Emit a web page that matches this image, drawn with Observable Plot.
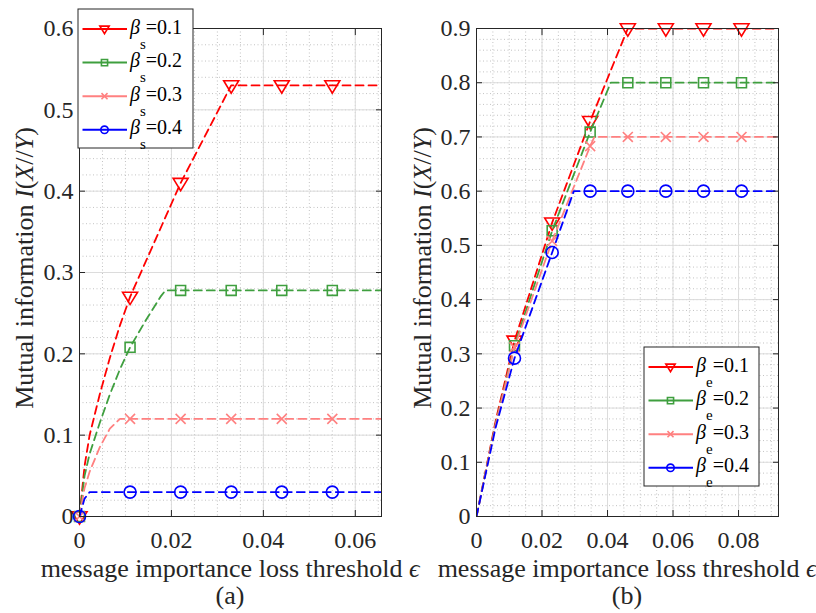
<!DOCTYPE html>
<html><head><meta charset="utf-8">
<script src="https://cdn.jsdelivr.net/npm/d3@7"></script>
<script src="https://cdn.jsdelivr.net/npm/@observablehq/plot@0.6"></script>
<style>
html,body{margin:0;padding:0;background:#fff;}
#wrap{position:relative;width:816px;height:613px;overflow:hidden;background:#fff;}
#wrap svg{position:absolute;top:0;overflow:visible;}
</style></head><body><div id="wrap"></div>
<script>
// ---------- data ----------
const seriesNames = ["0.1", "0.2", "0.3", "0.4"];
const colors = ["#ff0000", "#3f9f3f", "#ff8080", "#0000ff"];

// Panel (a)
const xTicksA = [0, 0.02, 0.04, 0.06];
const yTicksA = [0, 0.1, 0.2, 0.3, 0.4, 0.5, 0.6];
const markXA = [0, 0.011, 0.022, 0.033, 0.044, 0.055];
const markA1 = [0, 0.27, 0.41, 0.53, 0.53, 0.53];
const markA2 = [0, 0.208, 0.278, 0.278, 0.278, 0.278];
const markA3 = [0, 0.12, 0.12, 0.12, 0.12, 0.12];
const markA4 = [0, 0.03, 0.03, 0.03, 0.03, 0.03];
const lineA1 = [[0,0],[0.0011,0.062],[0.0022,0.1],[0.0044,0.15],[0.0066,0.195],[0.0088,0.235],[0.011,0.27],[0.022,0.41],[0.033,0.53],[0.0657,0.53]];
const lineA2 = [[0,0],[0.0011,0.05],[0.0022,0.077],[0.0044,0.115],[0.0066,0.15],[0.0088,0.181],[0.011,0.208],[0.0143,0.24],[0.0176,0.27],[0.0187,0.278],[0.0657,0.278]];
const lineA3 = [[0,0],[0.0011,0.035],[0.0022,0.055],[0.0044,0.085],[0.0066,0.108],[0.0088,0.12],[0.0657,0.12]];
const lineA4 = [[0,0],[0.0011,0.022],[0.0022,0.03],[0.0657,0.03]];

// Panel (b)
const xTicksB = [0, 0.02, 0.04, 0.06, 0.08];
const yTicksB = [0, 0.1, 0.2, 0.3, 0.4, 0.5, 0.6, 0.7, 0.8, 0.9];
const markXB = [0.0116, 0.0231, 0.0347, 0.0462, 0.0578, 0.0693, 0.0809];
const markB1 = [0.324, 0.542, 0.729, 0.9, 0.9, 0.9, 0.9];
const markB2 = [0.315, 0.527, 0.709, 0.8, 0.8, 0.8, 0.8];
const markB3 = [0.312, 0.508, 0.683, 0.7, 0.7, 0.7, 0.7];
const markB4 = [0.292, 0.487, 0.6, 0.6, 0.6, 0.6, 0.6];
const lineB1 = [[0,0],[0.0058,0.175],[0.0116,0.324],[0.0231,0.542],[0.0347,0.729],[0.0462,0.9],[0.0922,0.9]];
const lineB2 = [[0,0],[0.0058,0.17],[0.0116,0.315],[0.0231,0.527],[0.0347,0.709],[0.041,0.8],[0.0922,0.8]];
const lineB3 = [[0,0],[0.0058,0.168],[0.0116,0.312],[0.0231,0.508],[0.0347,0.683],[0.036,0.7],[0.0922,0.7]];
const lineB4 = [[0,0],[0.0058,0.163],[0.0116,0.292],[0.0231,0.487],[0.0297,0.6],[0.0922,0.6]];

// ---------- style ----------
const FONT = '"Liberation Serif", "Times New Roman", serif';
const INK = "#262626";
const triDown = {draw(ctx, size) {
  const r = Math.sqrt(size / Math.PI);
  ctx.moveTo(-1.25 * r, -0.78 * r); ctx.lineTo(1.25 * r, -0.78 * r); ctx.lineTo(0, 1.28 * r); ctx.closePath();
}};
const symbols = [triDown, d3.symbolSquare, d3.symbolTimes, d3.symbolCircle];
const symR = [6, 5.6, 4.6, 6];

function panel(o) {
  const marks = [
    Plot.gridX({ticks: o.xMinor, stroke: "#b4b4b4", strokeOpacity: 1, strokeWidth: 0.8, strokeDasharray: "1,2.5"}),
    Plot.gridY({ticks: o.yMinor, stroke: "#b4b4b4", strokeOpacity: 1, strokeWidth: 0.8, strokeDasharray: "1,2.5"}),
    Plot.gridX({ticks: o.xTicks, stroke: "#dcdcdc", strokeOpacity: 1, strokeWidth: 1}),
    Plot.gridY({ticks: o.yTicks, stroke: "#dcdcdc", strokeOpacity: 1, strokeWidth: 1})
  ];
  o.lines.forEach((ln, i) => {
    marks.push(Plot.line(ln, {x: d => d[0], y: d => d[1], stroke: colors[i], strokeWidth: 1.8, strokeDasharray: "8,5", clip: true}));
    const pts = d3.zip(o.markX, o.marks[i]);
    marks.push(Plot.dot(pts, {x: d => d[0], y: d => d[1], symbol: symbols[i], r: symR[i], stroke: colors[i], strokeWidth: 1.6, fill: "none"}));
  });
  marks.push(
    Plot.frame({stroke: INK, strokeWidth: 1}),
    Plot.axisX({anchor: "bottom", ticks: o.xTicks, tickSize: 6, dy: -6, tickFormat: () => "", label: null, stroke: INK}),
    Plot.axisX({anchor: "top", ticks: o.xTicks, tickSize: 6, dy: 6, tickFormat: () => "", label: null, stroke: INK}),
    Plot.axisY({anchor: "left", ticks: o.yTicks, tickSize: 6, dx: 6, tickFormat: () => "", label: null, stroke: INK}),
    Plot.axisY({anchor: "right", ticks: o.yTicks, tickSize: 6, dx: -6, tickFormat: () => "", label: null, stroke: INK}),
    Plot.axisX({anchor: "bottom", ticks: o.xTicks, tickSize: 0, tickPadding: 14, tickFormat: d => String(d), label: null, fill: INK}),
    Plot.axisY({anchor: "left", ticks: o.yTicks, tickSize: 0, tickPadding: 6, tickFormat: d => String(d), label: null, fill: INK})
  );
  const svg = Plot.plot({
    width: 408, height: 613,
    marginTop: 28, marginBottom: 97, marginLeft: o.marginLeft, marginRight: o.marginRight,
    x: {domain: o.xDomain, label: null},
    y: {domain: o.yDomain, label: null},
    style: {background: "transparent", overflow: "visible", fontFamily: FONT, fontSize: "24px", color: INK},
    marks
  });
  svg.style.left = o.left + "px";
  const s = d3.select(svg);
  // y label
  const yl = s.append("text").attr("transform", `translate(${o.yLabelX},268) rotate(-90)`)
    .attr("text-anchor", "middle").attr("font-size", 26).attr("fill", INK);
  yl.append("tspan").text("Mutual information ");
  yl.append("tspan").attr("font-style", "italic").text("I");
  yl.append("tspan").text("(");
  yl.append("tspan").attr("font-style", "italic").text("X");
  yl.append("tspan").text("//");
  yl.append("tspan").attr("font-style", "italic").text("Y");
  yl.append("tspan").text(")");
  // x label
  const cx = o.marginLeft + (408 - o.marginLeft - o.marginRight) / 2;
  const xl = s.append("text").attr("x", cx).attr("y", 577).attr("text-anchor", "middle").attr("font-size", 26).attr("fill", INK);
  xl.append("tspan").text("message importance loss threshold ");
  xl.append("tspan").attr("font-style", "italic").text("ϵ");
  s.append("text").attr("x", cx).attr("y", 604).attr("text-anchor", "middle").attr("font-size", 26).attr("fill", INK).text(o.tag);
  // legend
  const L = o.legend;
  const g = s.append("g");
  g.append("rect").attr("x", L.x).attr("y", L.y).attr("width", 115).attr("height", 139)
    .attr("fill", "white").attr("stroke", INK).attr("stroke-width", 1);
  seriesNames.forEach((name, i) => {
    const cy = L.y + 20 + 33.6 * i;
    g.append("line").attr("x1", L.x + 4.5).attr("x2", L.x + 49).attr("y1", cy).attr("y2", cy)
      .attr("stroke", colors[i]).attr("stroke-width", 2);
    const rr = symR[i] * 0.62;
    g.append("path").attr("d", d3.symbol(symbols[i], rr * rr * Math.PI)())
      .attr("transform", `translate(${L.x + 26.5},${cy})`)
      .attr("fill", "none").attr("stroke", colors[i]).attr("stroke-width", 1.6);
    const t = g.append("text").attr("x", L.x + 52).attr("y", cy + 4.5).attr("font-size", 20)
      .attr("text-anchor", "start").attr("fill", "#000");
    t.append("tspan").attr("font-style", "italic").text("β");
    t.append("tspan").attr("font-size", 15).attr("dy", 15).text(L.sub);
    t.append("tspan").attr("dy", -15).text("=" + name);
  });
  document.getElementById("wrap").appendChild(svg);
}

panel({
  left: 0, marginLeft: 79, marginRight: 27, tag: "(a)", yLabelX: 33,
  xDomain: [0, 0.0657], yDomain: [0, 0.6],
  xTicks: xTicksA, yTicks: yTicksA,
  xMinor: d3.range(0, 0.066, 0.005), yMinor: d3.range(0, 0.601, 0.02),
  lines: [lineA1, lineA2, lineA3, lineA4], markX: markXA, marks: [markA1, markA2, markA3, markA4],
  legend: {x: 78, y: 9, sub: "s"}
});
panel({
  left: 408, marginLeft: 68, marginRight: 38, tag: "(b)", yLabelX: 23,
  xDomain: [0, 0.0922], yDomain: [0, 0.9],
  xTicks: xTicksB, yTicks: yTicksB,
  xMinor: d3.range(0, 0.0925, 0.005), yMinor: d3.range(0, 0.901, 0.02),
  lines: [lineB1, lineB2, lineB3, lineB4], markX: markXB, marks: [markB1, markB2, markB3, markB4],
  legend: {x: 236, y: 347, sub: "e"}
});
</script></body></html>
